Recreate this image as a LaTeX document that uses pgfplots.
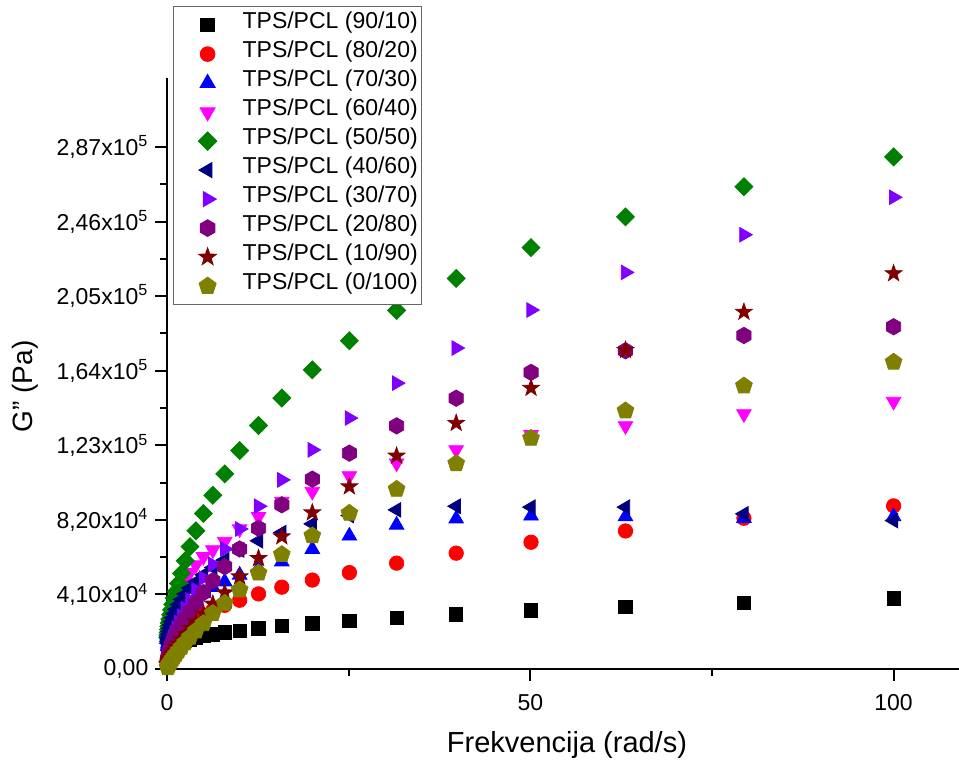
\documentclass[border=0pt]{standalone}
\usepackage{fontspec}
\setmainfont{Liberation Sans}
\usepackage{pgfplots}
\usepackage{pgfplotstable}
\pgfplotsset{compat=1.18}

\definecolor{cblack}{HTML}{000000}
\definecolor{cred}{HTML}{FF0000}
\definecolor{cblue}{HTML}{0000FF}
\definecolor{cmag}{HTML}{FF00FF}
\definecolor{cgreen}{HTML}{008000}
\definecolor{cnavy}{HTML}{000080}
\definecolor{cviolet}{HTML}{8000FF}
\definecolor{cpurple}{HTML}{800080}
\definecolor{cdred}{HTML}{800000}
\definecolor{colive}{HTML}{808000}

\pgfdeclareplotmark{hexa*}{%
  \pgfpathmoveto{\pgfqpointpolar{90}{\pgfplotmarksize}}%
  \pgfpathlineto{\pgfqpointpolar{150}{\pgfplotmarksize}}%
  \pgfpathlineto{\pgfqpointpolar{210}{\pgfplotmarksize}}%
  \pgfpathlineto{\pgfqpointpolar{270}{\pgfplotmarksize}}%
  \pgfpathlineto{\pgfqpointpolar{330}{\pgfplotmarksize}}%
  \pgfpathlineto{\pgfqpointpolar{30}{\pgfplotmarksize}}%
  \pgfpathclose\pgfusepathqfillstroke}
\pgfdeclareplotmark{penta*}{%
  \pgfpathmoveto{\pgfqpointpolar{90}{\pgfplotmarksize}}%
  \pgfpathlineto{\pgfqpointpolar{162}{\pgfplotmarksize}}%
  \pgfpathlineto{\pgfqpointpolar{234}{\pgfplotmarksize}}%
  \pgfpathlineto{\pgfqpointpolar{306}{\pgfplotmarksize}}%
  \pgfpathlineto{\pgfqpointpolar{18}{\pgfplotmarksize}}%
  \pgfpathclose\pgfusepathqfillstroke}
\pgfdeclareplotmark{star5*}{%
  \pgfpathmoveto{\pgfqpointpolar{90}{\pgfplotmarksize}}%
  \pgfpathlineto{\pgfqpointpolar{126}{0.4\pgfplotmarksize}}%
  \pgfpathlineto{\pgfqpointpolar{162}{\pgfplotmarksize}}%
  \pgfpathlineto{\pgfqpointpolar{198}{0.4\pgfplotmarksize}}%
  \pgfpathlineto{\pgfqpointpolar{234}{\pgfplotmarksize}}%
  \pgfpathlineto{\pgfqpointpolar{270}{0.4\pgfplotmarksize}}%
  \pgfpathlineto{\pgfqpointpolar{306}{\pgfplotmarksize}}%
  \pgfpathlineto{\pgfqpointpolar{342}{0.4\pgfplotmarksize}}%
  \pgfpathlineto{\pgfqpointpolar{18}{\pgfplotmarksize}}%
  \pgfpathlineto{\pgfqpointpolar{54}{0.4\pgfplotmarksize}}%
  \pgfpathclose\pgfusepathqfillstroke}

\pgfplotstableread{
f      sa     sb     sc     sd     se     sf     sg     sh     si     sj
0.1    5900   5000   12400  16400  17400  14200  6400   4700   2200   800
0.126  6400   5600   13200  17800  18700  15300  7100   5300   2600   1000
0.158  6900   6300   14100  19200  20100  16500  7900   6000   3000   1300
0.2    7400   7100   15000  20800  21700  17800  8800   6800   3500   1600
0.251  8000   8000   16000  22500  23400  19200  9800   7700   4100   2000
0.316  8600   9000   17100  24300  25300  20700  11000  8700   4800   2500
0.398  9200   10100  18300  26300  27400  22400  12300  9800   5600   3100
0.501  9900   11300  19600  28500  29800  24200  13800  11100  6500   3800
0.631  10600  12600  21000  30800  32500  26100  15500  12600  7500   4600
0.794  11300  14000  22500  33300  35500  28200  17500  14300  8800   5600
1      12100  15500  24200  36000  38900  30400  19800  16300  10200  6800
1.26   12900  17100  26000  39000  42600  32800  22400  18600  11900  8200
1.58   13700  18900  28000  42000  47100  35400  25500  21200  13900  10000
2      14500  20800  30300  45500  52600  38200  29000  24200  16200  12000
2.51   15400  22800  32800  49000  59500  41200  33200  27700  19000  14500
3.16   16300  25000  35500  53000  67300  44500  38000  31800  22200  17500
3.98   17200  27300  38500  57200  76000  48000  43500  36500  26000  21000
5.01   18200  29700  41500  61800  85500  51800  50000  42000  30500  25000
6.31   19100  32300  45000  65500  95500  55800  57500  48500  35800  30600
7.94   20200  35000  48000  70100  107300 60000  66000  56300  42000  36200
10     21100  37800  51700  77000  120100 65500  77000  66000  50800  43500
12.6   22400  41300  55500  83800  133900 70500  89500  77400  60900  52800
15.8   23700  45000  59000  92100  149000 75000  104000 90300  72800  63000
20     25100  48900  65900  97600  164500 79800  120500 104400 86000  73300
25.1   26600  53000  73200  106200 180500 84400  138000 118700 100300 85700
31.6   28200  58200  79200  113200 197200 87500  157200 133700 117200 98900
39.8   30100  63700  82600  120500 214800 89500  176500 148900 135200 113000
50.1   32300  69700  84200  128800 231700 89000  197400 163100 154500 126900
63.1   34300  75900  83800  133700 248600 89000  218100 175000 175300 142000
79.4   36200  82900  82900  140300 265200 85300  238800 183400 196300 155700
100    38900  89700  83800  147100 281600 81600  259400 188200 217500 168800
}\datatable

\begin{document}
\begin{tikzpicture}
\begin{axis}[
  scale only axis,
  width=396pt, height=295.5pt,
  xmin=0, xmax=109, ymin=0, ymax=325000,
  axis x line*=bottom, axis y line*=left,
  axis line style={-, line width=1pt},
  axis on top,
  tick align=outside,
  major tick length=5.8pt, minor tick length=3.3pt,
  every tick/.style={black, line width=1pt},
  xtick={0,50,100}, xticklabels={0,50,100},
  minor x tick num=1,
  ytick={0,41000,82000,123000,164000,205000,246000,287000},
  yticklabels={{0,00},{4,10x10\textsuperscript{4}},{8,20x10\textsuperscript{4}},{1,23x10\textsuperscript{5}},{1,64x10\textsuperscript{5}},{2,05x10\textsuperscript{5}},{2,46x10\textsuperscript{5}},{2,87x10\textsuperscript{5}}},
  minor y tick num=1,
  scaled y ticks=false, scaled x ticks=false,
  tick label style={font=\fontsize{11.5}{13}\selectfont},
  xticklabel style={yshift=-3.5pt},
  xlabel={Frekvencija (rad/s)},
  ylabel={G” (Pa)},
  xlabel style={font=\fontsize{14.5}{16}\selectfont, at={(axis description cs:0.505,-0.1286)}, anchor=center},
  ylabel style={font=\fontsize{14}{16}\selectfont, at={(axis description cs:-0.179,0.478)}, anchor=center},
  legend cell align=left,
  legend style={at={(axis description cs:0.0076,1.1218)}, anchor=north west,
    draw=black!60, line width=0.6pt, fill=white,
    font=\fontsize{11.5}{13}\selectfont,
    inner xsep=2pt, inner ysep=2pt, row sep=0pt,
    nodes={inner sep=0pt, text height=9pt, text depth=5.5pt},
    /tikz/every odd column/.append style={column sep=10.5pt}},
  legend image code/.code={\path[draw=none,fill=none] (0pt,0pt) -- (22pt,0pt); \draw[#1] plot coordinates {(15pt,0pt)};},
  every axis plot/.append style={only marks},
]
\addplot[color=cblack, mark=square*, mark size=3.33pt] table[x=f,y=sa]{\datatable};
\addlegendentry{TPS/PCL (90/10)}
\addplot[color=cred, mark=*, mark size=3.6pt] table[x=f,y=sb]{\datatable};
\addlegendentry{TPS/PCL (80/20)}
\addplot[color=cblue, mark=triangle*, mark size=4.2pt] table[x=f,y=sc]{\datatable};
\addlegendentry{TPS/PCL (70/30)}
\addplot[color=cmag, mark=triangle*, mark size=4.2pt, mark options={rotate=180}] table[x=f,y=sd]{\datatable};
\addlegendentry{TPS/PCL (60/40)}
\addplot[color=cgreen, mark=square*, mark size=3.18pt, mark options={rotate=45}] table[x=f,y=se]{\datatable};
\addlegendentry{TPS/PCL (50/50)}
\addplot[color=cnavy, mark=triangle*, mark size=4.2pt, mark options={rotate=90}] table[x=f,y=sf]{\datatable};
\addlegendentry{TPS/PCL (40/60)}
\addplot[color=cviolet, mark=triangle*, mark size=4.2pt, mark options={rotate=-90}] table[x=f,y=sg]{\datatable};
\addlegendentry{TPS/PCL (30/70)}
\addplot[color=cpurple, mark=hexa*, mark size=4.1pt] table[x=f,y=sh]{\datatable};
\addlegendentry{TPS/PCL (20/80)}
\addplot[color=cdred, mark=star5*, mark size=4.4pt] table[x=f,y=si]{\datatable};
\addlegendentry{TPS/PCL (10/90)}
\addplot[color=colive, mark=penta*, mark size=4.4pt] table[x=f,y=sj]{\datatable};
\addlegendentry{TPS/PCL (0/100)}
\end{axis}
\pgfresetboundingbox
\path[use as bounding box] (-83.5pt,-47.5pt) rectangle (396pt,334.5pt);
\end{tikzpicture}
\end{document}
